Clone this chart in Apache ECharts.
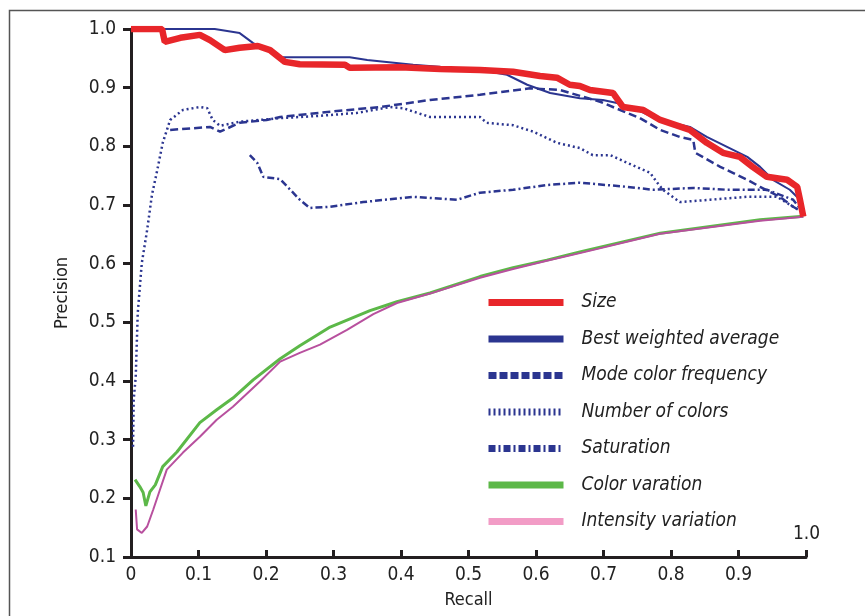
<!DOCTYPE html>
<html>
<head>
<meta charset="utf-8">
<title>Precision / Recall</title>
<script src="https://cdn.jsdelivr.net/npm/echarts@6/dist/echarts.min.js"></script>
<style>
    html, body { margin: 0; padding: 0; background: #fff; }
    #main { width: 865px; height: 616px; }
</style>
</head>
<body>
<div id="main"></div>
<script>
// curves, [recall, precision]
var sizeData = [[0,1.0],[0.046,1.0],[0.050,0.978],[0.073,0.985],[0.102,0.990],[0.117,0.981],[0.139,0.964],[0.161,0.968],[0.188,0.971],[0.206,0.964],[0.228,0.944],[0.250,0.940],[0.317,0.939],[0.324,0.934],[0.399,0.935],[0.458,0.932],[0.517,0.930],[0.566,0.927],[0.606,0.920],[0.631,0.917],[0.650,0.905],[0.665,0.903],[0.680,0.896],[0.714,0.891],[0.729,0.867],[0.759,0.862],[0.784,0.845],[0.828,0.828],[0.853,0.806],[0.877,0.789],[0.902,0.782],[0.921,0.765],[0.942,0.748],[0.972,0.743],[0.987,0.731],[0.991,0.709],[0.996,0.680]];
var bestData = [[0,1.0],[0.124,1.0],[0.161,0.993],[0.181,0.976],[0.201,0.964],[0.221,0.952],[0.324,0.952],[0.350,0.947],[0.418,0.939],[0.517,0.930],[0.557,0.922],[0.587,0.905],[0.621,0.891],[0.665,0.882],[0.699,0.879],[0.720,0.874],[0.750,0.862],[0.773,0.850],[0.803,0.840],[0.828,0.833],[0.853,0.816],[0.883,0.799],[0.913,0.782],[0.932,0.765],[0.951,0.743],[0.976,0.726],[0.991,0.709],[0.996,0.687]];
var modeData = [[0.058,0.828],[0.117,0.833],[0.132,0.825],[0.161,0.840],[0.201,0.845],[0.221,0.850],[0.295,0.859],[0.369,0.867],[0.443,0.879],[0.517,0.888],[0.591,0.899],[0.636,0.896],[0.695,0.876],[0.754,0.848],[0.784,0.828],[0.813,0.816],[0.833,0.811],[0.836,0.789],[0.873,0.765],[0.913,0.743],[0.932,0.731],[0.961,0.714],[0.981,0.697],[0.996,0.687]];
var numberData = [[0.003,0.288],[0.004,0.368],[0.007,0.407],[0.010,0.516],[0.016,0.601],[0.024,0.658],[0.031,0.717],[0.039,0.760],[0.047,0.806],[0.058,0.845],[0.077,0.862],[0.102,0.867],[0.113,0.865],[0.121,0.845],[0.132,0.835],[0.161,0.842],[0.221,0.848],[0.280,0.852],[0.335,0.857],[0.384,0.867],[0.403,0.865],[0.443,0.850],[0.517,0.850],[0.527,0.840],[0.566,0.836],[0.596,0.825],[0.631,0.806],[0.665,0.797],[0.684,0.785],[0.710,0.785],[0.735,0.772],[0.769,0.755],[0.779,0.739],[0.788,0.726],[0.813,0.705],[0.858,0.709],[0.913,0.714],[0.957,0.714],[0.981,0.697],[0.996,0.687]];
var saturationData = [[0.176,0.785],[0.187,0.772],[0.196,0.748],[0.221,0.744],[0.236,0.726],[0.250,0.709],[0.265,0.695],[0.295,0.697],[0.344,0.705],[0.418,0.714],[0.483,0.709],[0.517,0.721],[0.566,0.726],[0.616,0.734],[0.665,0.738],[0.735,0.731],[0.773,0.726],[0.833,0.729],[0.883,0.726],[0.942,0.726],[0.981,0.709],[0.996,0.687]];
var colorVarData = [[0.006,0.232],[0.013,0.220],[0.018,0.210],[0.022,0.187],[0.028,0.211],[0.036,0.223],[0.047,0.254],[0.068,0.279],[0.102,0.329],[0.127,0.351],[0.151,0.371],[0.181,0.402],[0.221,0.438],[0.250,0.460],[0.295,0.492],[0.354,0.520],[0.394,0.535],[0.443,0.550],[0.517,0.578],[0.566,0.593],[0.616,0.606],[0.665,0.620],[0.784,0.652],[0.932,0.675],[0.996,0.681]];
var intensityData = [[0.007,0.181],[0.009,0.147],[0.016,0.141],[0.024,0.152],[0.033,0.181],[0.043,0.215],[0.053,0.249],[0.077,0.278],[0.102,0.305],[0.127,0.334],[0.151,0.356],[0.191,0.399],[0.221,0.433],[0.250,0.448],[0.280,0.462],[0.320,0.487],[0.359,0.514],[0.394,0.533],[0.443,0.549],[0.517,0.576],[0.566,0.591],[0.616,0.605],[0.665,0.618],[0.784,0.651],[0.932,0.673],[0.996,0.680]];

var seriesNames = ['Size', 'Best weighted average', 'Mode color frequency', 'Number of colors', 'Saturation', 'Color varation', 'Intensity variation'];

var narrow = "'Liberation Sans Narrow', 'DejaVu Sans Condensed', sans-serif";
var navy = '#2b3590';

function line(name, data, color, width, type, z) {
    return {
        name: name,
        type: 'line',
        data: data,
        showSymbol: false,
        symbol: 'none',
        z: z,
        lineStyle: { color: color, width: width, type: type },
        itemStyle: { color: color }
    };
}

// legend entry: thick line only, no symbol in the middle
function legendItem(name, color, type) {
    return {
        name: name,
        itemStyle: { opacity: 0 },
        lineStyle: { width: 7, color: color, type: type }
    };
}

var myChart = echarts.init(document.getElementById('main'));

var option = {
    animation: false,
    backgroundColor: '#fff',
    grid: { left: 131, top: 29, right: 59, bottom: 59 },
    graphic: [
        {   // outer frame
            type: 'rect',
            shape: { x: 9.5, y: 10.5, width: 870, height: 620 },
            style: { fill: null, stroke: '#555', lineWidth: 1.5 },
            silent: true
        },
        {
            type: 'text',
            left: 793, top: 525,
            style: { text: '1.0', fill: '#222', font: '19px ' + narrow }
        }
    ],
    legend: {
        orient: 'vertical',
        left: 480,
        top: 288,
        itemWidth: 75,
        itemHeight: 8,
        itemGap: 17.5,
        selectedMode: false,
        textStyle: { color: '#222', fontSize: 19, fontStyle: 'italic', fontFamily: narrow, padding: [0, 0, 0, 13] },
        data: [
            legendItem(seriesNames[0], '#e8262a', 'solid'),
            legendItem(seriesNames[1], navy, 'solid'),
            legendItem(seriesNames[2], navy, [8, 3]),
            legendItem(seriesNames[3], navy, [2, 3]),
            legendItem(seriesNames[4], navy, [7, 3, 2, 3]),
            legendItem(seriesNames[5], '#5cb848', 'solid'),
            legendItem(seriesNames[6], '#f29cc6', 'solid')
        ]
    },
    xAxis: {
        type: 'value',
        min: 0,
        max: 1,
        interval: 0.1,
        name: 'Recall',
        nameLocation: 'middle',
        nameGap: 34,
        nameTextStyle: { color: '#222', fontSize: 18, fontFamily: narrow },
        splitLine: { show: false },
        axisLine: { lineStyle: { color: '#231f20', width: 3 } },
        axisTick: { inside: true, length: 7, lineStyle: { color: '#231f20', width: 3 } },
        axisLabel: {
            color: '#222', fontSize: 19, fontFamily: narrow, margin: 9,
            formatter: function (v) {
                if (v === 0) return '0';
                if (v > 0.99) return '';
                return v.toFixed(1);
            }
        }
    },
    yAxis: {
        type: 'value',
        min: 0.1,
        max: 1.0,
        interval: 0.1,
        name: 'Precision',
        nameLocation: 'middle',
        nameGap: 60,
        nameTextStyle: { color: '#222', fontSize: 18, fontFamily: narrow },
        splitLine: { show: false },
        axisLine: { lineStyle: { color: '#231f20', width: 3 } },
        axisTick: { length: 8, lineStyle: { color: '#231f20', width: 3 } },
        axisLabel: {
            color: '#222', fontSize: 19, fontFamily: narrow, margin: 15,
            formatter: function (v) { return v.toFixed(1); }
        }
    },
    series: [
        line(seriesNames[5], colorVarData, '#5cb848', 3, 'solid', 2),
        line(seriesNames[6], intensityData, '#b8509e', 2, 'solid', 3),
        line(seriesNames[4], saturationData, navy, 2.5, [7, 3, 2, 3], 4),
        line(seriesNames[3], numberData, navy, 2.5, [2, 3], 4),
        line(seriesNames[2], modeData, navy, 2.5, [8, 4], 4),
        line(seriesNames[1], bestData, navy, 2, 'solid', 5),
        line(seriesNames[0], sizeData, '#e8262a', 6.5, 'solid', 6)
    ]
};
myChart.setOption(option);
</script>
</body>
</html>
